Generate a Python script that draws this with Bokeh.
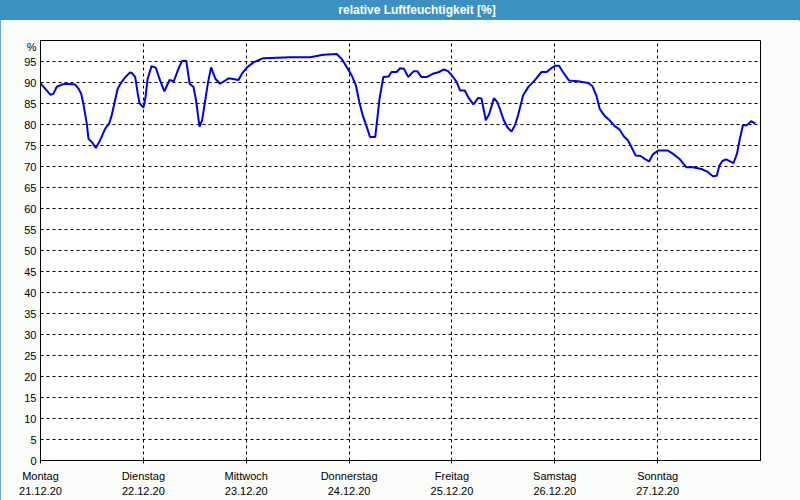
from bokeh.plotting import figure
from bokeh.models import FixedTicker, Div, Range1d
from bokeh.layouts import column
from bokeh.embed import file_html
from bokeh.resources import INLINE

# hours since Monday 21.12.20 00:00
hours = [0.0, 2.3, 3.0, 3.8, 5.0, 6.1, 8.1, 8.9, 9.5, 10.0, 10.8, 11.2, 12.0, 12.9, 13.9,
         15.1, 16.0, 16.6, 17.2, 18.0, 18.9, 19.9, 20.9, 21.4, 22.1, 22.7, 23.1, 24.0,
         24.5, 25.0, 25.9, 26.9, 27.9, 28.9, 30.1, 31.1, 32.2, 33.0, 34.0, 34.8, 35.7,
         36.3, 37.1, 37.7, 38.3, 39.1, 39.8, 40.8, 41.9, 43.9, 46.2, 47.0, 48.2, 49.7,
         52.0, 58.3, 62.9, 66.0, 69.1, 70.3, 71.5, 72.6, 73.6, 74.4, 75.2, 76.0, 76.9,
         78.1, 78.5, 79.1, 80.0, 81.2, 81.9, 83.1, 83.9, 84.8, 85.8, 87.1, 87.9, 88.9,
         90.1, 91.6, 93.0, 94.1, 95.1, 96.3, 97.1, 97.9, 99.0, 99.8, 101.0, 102.1, 102.9,
         103.9, 104.7, 105.8, 106.6, 107.2, 108.1, 108.9, 109.9, 110.7, 111.4, 112.6,
         113.8, 115.3, 116.9, 118.1, 119.2, 120.2, 121.0, 121.9, 123.3, 125.4, 127.8,
         128.8, 129.7, 130.5, 131.6, 132.8, 134.0, 135.1, 136.1, 137.1, 137.9, 138.9,
         140.0, 141.0, 142.0, 142.9, 144.1, 146.4, 147.6, 149.1, 150.7, 152.2, 154.2,
         155.7, 156.9, 157.8, 158.4, 159.1, 160.0, 160.8, 161.7, 162.5, 163.1, 163.9,
         164.8, 165.8, 166.8]
humidity = [89.8, 87.1, 87.3, 89.0, 89.5, 89.7, 89.5, 88.5, 87.3, 84.9, 80.2, 76.6, 75.8,
            74.4, 76.2, 79.0, 80.2, 82.1, 84.9, 88.5, 90.1, 91.4, 92.4, 92.2, 91.3, 87.3,
            85.1, 84.0, 86.5, 90.9, 93.9, 93.5, 90.5, 87.9, 90.6, 90.3, 93.3, 95.1, 95.2,
            89.7, 88.9, 85.7, 79.5, 81.0, 84.9, 90.1, 93.6, 90.9, 89.7, 91.0, 90.6, 92.1,
            93.6, 94.8, 95.8, 96.0, 96.0, 96.6, 96.8, 95.6, 93.6, 91.7, 89.3, 85.3, 82.1,
            79.8, 77.0, 77.0, 80.6, 86.1, 91.3, 91.4, 92.5, 92.5, 93.4, 93.3, 91.3, 92.7,
            92.7, 91.3, 91.3, 92.1, 92.5, 93.1, 92.7, 91.3, 90.1, 88.1, 88.1, 86.5, 84.8,
            86.3, 86.2, 81.0, 82.5, 86.3, 85.3, 83.7, 81.0, 79.4, 78.3, 79.8, 82.1, 86.9,
            88.9, 90.5, 92.5, 92.5, 93.4, 94.0, 94.0, 92.5, 90.5, 90.3, 89.9, 89.1, 86.9,
            83.7, 82.1, 81.0, 79.6, 78.8, 77.2, 76.2, 74.6, 72.6, 72.5, 71.8, 71.2, 72.9,
            73.8, 73.8, 73.0, 71.8, 69.8, 69.8, 69.4, 68.7, 67.7, 67.8, 70.2, 71.3, 71.7,
            71.3, 70.8, 73.0, 76.2, 79.8, 79.8, 80.8, 80.2]

day_hours = [0, 24, 48, 72, 96, 120, 144]
day_names = ["Montag", "Dienstag", "Mittwoch", "Donnerstag", "Freitag", "Samstag", "Sonntag"]
day_dates = ["21.12.20", "22.12.20", "23.12.20", "24.12.20", "25.12.20", "26.12.20", "27.12.20"]
y_ticks = list(range(0, 100, 5))
title_text = "relative Luftfeuchtigkeit [%]"

FONT = "Liberation Sans"
BG = "#F9FCF9"

p = figure(width=800, height=480, output_backend="svg", toolbar_location=None,
           x_range=Range1d(0, 168), y_range=Range1d(0, 100), margin=0,
           min_border_left=40, min_border_right=40, min_border_top=20, min_border_bottom=40)
p.background_fill_color = "white"
p.border_fill_color = BG
p.outline_line_color = "black"
p.outline_line_width = 1
p.outline_line_alpha = 1.0

p.line(hours, humidity, line_color="#0000E6", line_width=2)

# x axis
p.xaxis.ticker = FixedTicker(ticks=day_hours)
p.xaxis.major_label_overrides = {h: f"{n}\n{d}" for h, n, d in zip(day_hours, day_names, day_dates)}
p.xaxis.major_label_text_font = FONT
p.xaxis.major_label_text_font_size = "11px"
p.xaxis.major_label_text_color = "black"
p.xaxis.major_label_text_line_height = 1.3
p.xaxis.major_tick_out = 3
p.xaxis.major_tick_in = 0
p.xaxis.minor_tick_out = 0
p.xaxis.minor_tick_in = 0
p.xaxis.major_label_standoff = 6
p.xaxis.axis_line_color = "black"

# y axis
pct_pos = 98.5
p.yaxis.ticker = FixedTicker(ticks=y_ticks + [pct_pos])
p.yaxis.major_label_overrides = {pct_pos: "%"}
p.yaxis.major_label_text_font = FONT
p.yaxis.major_label_text_font_size = "11px"
p.yaxis.major_label_text_color = "black"
p.yaxis.major_tick_out = 0
p.yaxis.major_tick_in = 0
p.yaxis.minor_tick_out = 0
p.yaxis.minor_tick_in = 0
p.yaxis.major_label_standoff = 4
p.yaxis.axis_line_color = "black"

# grids
p.xgrid.ticker = FixedTicker(ticks=day_hours[1:])
p.ygrid.ticker = FixedTicker(ticks=y_ticks[1:])
for g in (p.xgrid, p.ygrid):
    g.grid_line_color = "black"
    g.grid_line_dash = "3 3"
    g.grid_line_width = 1
    g.grid_line_alpha = 1.0

title = Div(text=f'<span style="padding-left:34px">{title_text}</span>', width=800, height=20,
            margin=0,
            styles={"background-color": "#3C91C3", "color": "white", "font-family": FONT,
                    "font-weight": "bold", "font-size": "12px", "text-align": "center",
                    "line-height": "20px"})

layout = column(title, p, spacing=0, margin=0,
                styles={"outline": "1px solid #3C91C3", "outline-offset": "-1px"})

open("out.html", "w").write(file_html(layout, INLINE))
